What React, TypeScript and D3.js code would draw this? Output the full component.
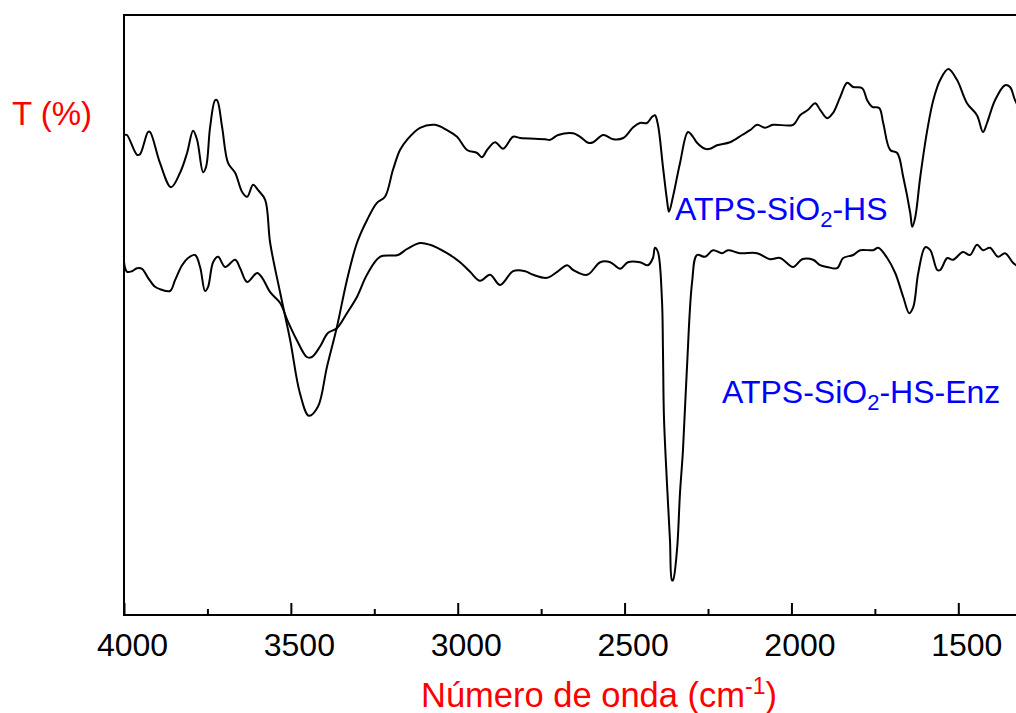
import React, { useEffect, useRef } from "react";
import * as d3 from "d3";

// ATPS-SiO2-HS (upper curve)
const hsWave = [3997,3991,3961,3952,3928,3922,3892,3859,3832,3811,3793,3781,3763,3754,3742,3727,3721,3706,3688,3667,3646,3631,3613,3598,3577,3562,3532,3502,3473,3446,3419,3392,3362,3332,3302,3272,3242,3218,3194,3173,3152,3113,3068,3032,3002,2972,2942,2927,2912,2888,2864,2834,2813,2738,2723,2699,2654,2633,2609,2594,2564,2534,2504,2474,2454,2433,2418,2409,2400,2385,2373,2367,2355,2334,2310,2295,2283,2259,2244,2223,2184,2148,2124,2103,2079,2055,1995,1974,1950,1929,1914,1893,1875,1854,1833,1815,1788,1773,1758,1737,1725,1704,1683,1665,1644,1638,1629,1614,1593,1575,1554,1530,1504,1474,1444,1426,1414,1390,1360,1345,1330,1315];
const hsT = [80.0,80.0,76.7,76.8,80.5,80.5,75.3,71.3,73.7,77.0,80.7,79.2,73.8,74.7,81.3,85.8,85.8,81.3,75.3,73.7,70.5,69.7,71.7,70.8,69.2,62.0,53.7,45.8,37.0,33.2,34.7,41.3,48.0,55.8,62.0,65.8,68.7,69.7,74.2,77.5,79.2,81.2,81.7,80.8,79.7,77.5,77.0,76.3,77.5,78.8,77.7,79.7,79.5,79.3,79.2,80.0,80.3,79.7,78.7,78.8,80.0,79.3,79.5,81.3,82.0,82.0,83.0,83.3,81.7,74.7,69.2,67.2,69.7,75.3,80.5,79.7,78.7,77.7,77.7,78.3,78.8,80.0,80.8,81.7,81.2,81.7,81.7,83.3,84.2,85.3,84.2,82.8,83.7,86.3,88.7,88.0,87.8,85.8,84.7,84.5,82.0,77.5,77.0,73.0,67.0,64.7,66.3,73.0,80.8,85.8,89.2,91.0,89.2,85.3,83.3,80.5,82.0,85.8,88.3,88.0,85.8,84.2];

// ATPS-SiO2-HS-Enz (lower curve)
const enzWave = [4000,3991,3976,3961,3946,3928,3907,3892,3862,3847,3826,3808,3787,3772,3757,3748,3733,3718,3697,3667,3652,3631,3601,3586,3562,3532,3511,3482,3452,3437,3413,3389,3362,3332,3302,3272,3233,3179,3152,3113,3083,3032,2993,2963,2933,2903,2873,2834,2798,2774,2732,2702,2672,2654,2612,2573,2543,2513,2490,2454,2430,2415,2409,2400,2388,2385,2382,2373,2364,2358,2355,2343,2334,2325,2313,2298,2283,2259,2235,2208,2190,2154,2103,2064,2034,1995,1968,1935,1914,1893,1863,1845,1815,1794,1755,1740,1713,1689,1665,1647,1635,1620,1599,1584,1563,1554,1533,1516,1486,1465,1444,1426,1405,1381,1360,1336,1327,1315];
const enzT = [58.8,57.2,57.3,57.8,57.7,56.2,54.7,54.3,54.0,55.8,58.3,59.5,60.0,58.0,54.0,54.7,58.8,59.7,58.0,59.2,57.8,55.5,57.0,56.2,53.8,52.0,49.2,45.8,43.0,43.0,44.7,47.0,47.8,50.3,53.0,56.7,59.7,60.0,61.0,62.0,61.7,60.3,58.8,57.2,55.7,56.7,55.0,57.3,57.3,56.7,56.2,57.2,58.3,57.5,56.7,58.8,58.8,57.7,58.8,58.8,58.3,59.5,61.2,60.5,52.5,44.2,33.0,22.0,12.5,5.8,5.8,10.8,20.3,27.5,41.3,55.3,60.0,59.7,60.8,60.3,60.8,60.3,60.3,59.3,59.5,58.0,59.3,59.2,58.3,58.0,57.8,59.5,60.0,60.8,60.8,61.2,59.5,57.0,53.0,50.3,51.3,57.0,61.3,60.8,57.5,57.5,59.5,59.2,60.5,60.0,61.7,60.8,61.2,59.7,60.3,58.7,58.3,57.8];

const majorTicks = [4000, 3500, 3000, 2500, 2000, 1500];
const minorTicks = [3750, 3250, 2750, 2250, 1750];

const FONT = "'Liberation Sans', Arial, Helvetica, sans-serif";

export default function App() {
  const ref = useRef<SVGGElement>(null);
  const W = 1016, H = 713;
  const left = 124, top = 15, bottom = 615;
  const x = d3.scaleLinear().domain([4000, 1500]).range([124, 958.3]);
  const y = d3.scaleLinear().domain([0, 100]).range([bottom, top]);

  useEffect(() => {
    const root = d3.select(ref.current);
    root.selectAll("*").remove();
    root.append("defs").append("clipPath").attr("id", "plotclip")
      .append("rect").attr("x", left).attr("y", top).attr("width", W - left + 20).attr("height", bottom - top);

    const line = d3.line<[number, number]>().x(d => x(d[0])).y(d => y(d[1]))
      .curve(d3.curveCatmullRom.alpha(0.5));
    const g = root.append("g").attr("clip-path", "url(#plotclip)");
    const hs = hsWave.map((w, i) => [w, hsT[i]] as [number, number]);
    const enz = enzWave.map((w, i) => [w, enzT[i]] as [number, number]);
    [hs, enz].forEach(d => {
      g.append("path").attr("d", line(d) as string).attr("fill", "none")
        .attr("stroke", "#000").attr("stroke-width", 2).attr("stroke-linejoin", "round");
    });

    // frame
    root.append("path").attr("d", `M${W + 5},${top}H${left}V${bottom}H${W + 5}`)
      .attr("fill", "none").attr("stroke", "#000").attr("stroke-width", 2);

    // minor ticks
    const minorAxis = d3.axisBottom(x).tickValues(minorTicks).tickSize(-6).tickFormat(() => "");
    const ga = root.append("g").attr("transform", `translate(0,${bottom})`).call(minorAxis);
    ga.select(".domain").remove();
    ga.selectAll("line").attr("stroke-width", 2);

    const majorAxis = d3.axisBottom(x).tickValues(majorTicks).tickSize(-12).tickPadding(18)
      .tickFormat(d => String(d));
    const gm = root.append("g").attr("transform", `translate(0,${bottom})`).call(majorAxis);
    gm.select(".domain").remove();
    gm.selectAll("line").attr("stroke-width", 2);
    gm.selectAll("text").attr("font-family", FONT).attr("font-size", 32).attr("fill", "#000")
      .attr("dx", 8);
  }, []);

  return (
    <svg width={W} height={H}
      style={{ position: "absolute", left: 0, top: 0, background: "#fff" }}
      fontFamily={FONT}>
      <g ref={ref} />
      <text x={12} y={125} fontSize={33} fill="#ff0000" fontFamily={FONT}>T (%)</text>
      <text x={421} y={707} fontSize={34.5} fill="#ff0000" fontFamily={FONT}>
        Número de onda (cm<tspan fontSize={23} dy={-13}>-1</tspan><tspan dy={13}>)</tspan>
      </text>
      <text x={675} y={220} fontSize={32} fill="#0000ff" fontFamily={FONT}>
        ATPS-SiO<tspan fontSize={22} dy={7}>2</tspan><tspan dy={-7}>-HS</tspan>
      </text>
      <text x={722} y={403} fontSize={32} fill="#0000ff" fontFamily={FONT}>
        ATPS-SiO<tspan fontSize={22} dy={7}>2</tspan><tspan dy={-7}>-HS-Enz</tspan>
      </text>
    </svg>
  );
}
